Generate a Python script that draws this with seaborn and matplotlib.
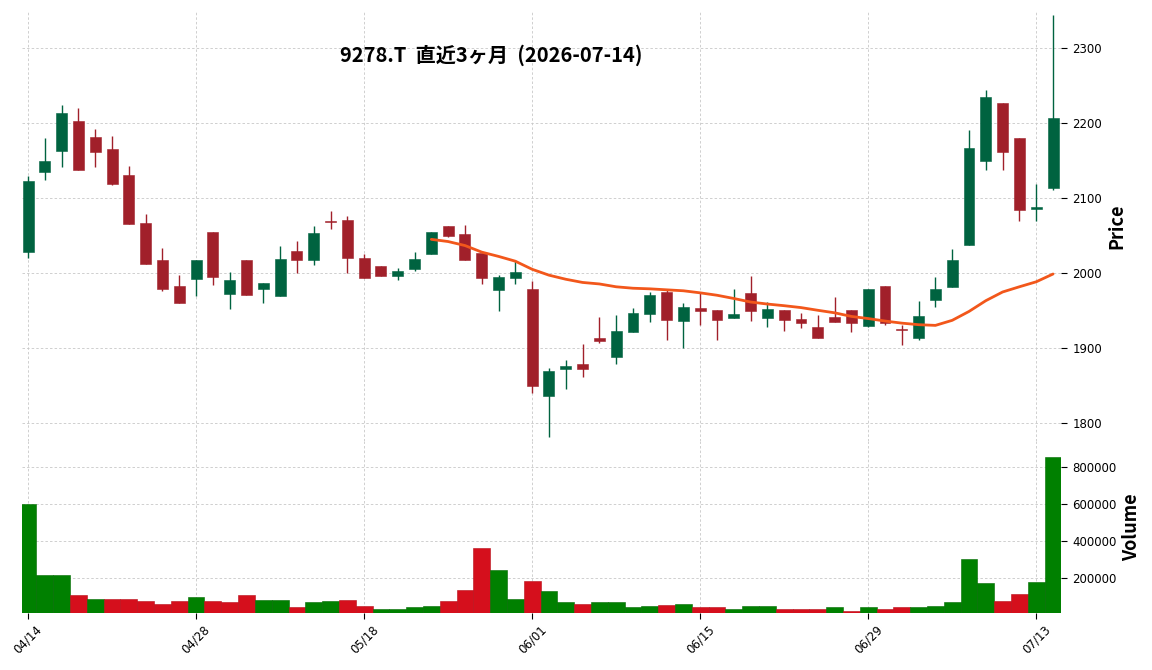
import numpy as np
import pandas as pd
import matplotlib
matplotlib.use("Agg")
import matplotlib.pyplot as plt
import seaborn as sns

# trading days, 2026-04-14 .. 2026-07-14 (TSE calendar)
dates = ["04/14", "04/15", "04/16", "04/17", "04/20", "04/21", "04/22", "04/23", "04/24", "04/27",
         "04/28", "04/30", "05/01", "05/07", "05/08", "05/11", "05/12", "05/13", "05/14", "05/15",
         "05/18", "05/19", "05/20", "05/21", "05/22", "05/25", "05/26", "05/27", "05/28", "05/29",
         "06/01", "06/02", "06/03", "06/04", "06/05", "06/08", "06/09", "06/10", "06/11", "06/12",
         "06/15", "06/16", "06/17", "06/18", "06/19", "06/22", "06/23", "06/24", "06/25", "06/26",
         "06/29", "06/30", "07/01", "07/02", "07/03", "07/06", "07/07", "07/08", "07/09", "07/10",
         "07/13", "07/14"]

opens = [2028, 2135, 2163, 2203, 2182, 2166, 2131, 2067, 2018, 1983,
         1992, 2055, 1972, 2018, 1979, 1970, 2030, 2017, 2070, 2071,
         2020, 2010, 1996, 2006, 2025, 2063, 2052, 2027, 1978, 1994,
         1979, 1836, 1872, 1879, 1914, 1888, 1922, 1946, 1975, 1936,
         1954, 1951, 1940, 1974, 1940, 1951, 1939, 1928, 1942, 1951,
         1930, 1983, 1925, 1914, 1964, 1982, 2038, 2150, 2227, 2180,
         2086, 2114]
highs = [2130, 2180, 2225, 2220, 2193, 2183, 2143, 2079, 2033, 1997,
         2018, 2055, 2002, 2018, 1987, 2036, 2043, 2063, 2083, 2077,
         2025, 2010, 2007, 2028, 2055, 2063, 2064, 2027, 1998, 2018,
         1990, 1874, 1884, 1905, 1941, 1944, 1953, 1975, 1978, 1960,
         1975, 1951, 1979, 1996, 1961, 1951, 1947, 1944, 1968, 1951,
         1979, 1983, 1931, 1963, 1995, 2032, 2191, 2245, 2227, 2180,
         2119, 2345]
lows = [2020, 2125, 2142, 2138, 2142, 2118, 2066, 2012, 1976, 1960,
        1969, 1984, 1952, 1971, 1960, 1970, 2000, 2011, 2059, 2000,
        1993, 1996, 1991, 2003, 2025, 2048, 2017, 1985, 1949, 1985,
        1840, 1781, 1846, 1861, 1907, 1879, 1922, 1935, 1911, 1900,
        1931, 1911, 1940, 1936, 1928, 1923, 1927, 1913, 1935, 1921,
        1928, 1931, 1904, 1911, 1955, 1982, 2038, 2138, 2138, 2070,
        2070, 2111]
closes = [2123, 2150, 2214, 2138, 2162, 2119, 2066, 2012, 1979, 1960,
          2018, 1995, 1991, 1971, 1987, 2019, 2017, 2054, 2068, 2020,
          1993, 1996, 2003, 2019, 2055, 2050, 2017, 1994, 1995, 2002,
          1849, 1870, 1876, 1872, 1910, 1923, 1947, 1971, 1938, 1955,
          1950, 1937, 1946, 1950, 1952, 1938, 1933, 1913, 1935, 1934,
          1979, 1934, 1924, 1943, 1979, 2018, 2167, 2235, 2162, 2084,
          2089, 2207]
volumes = [602000, 218000, 218000, 110000, 88000, 88000, 88000, 77500, 61000, 77500,
           94000, 77500, 67000, 110000, 83000, 83000, 45000, 67000, 77500, 83000,
           50000, 34000, 34000, 40000, 50000, 77500, 137000, 364000, 245000, 88000,
           186000, 131500, 67000, 61000, 67000, 67000, 45000, 50000, 56000, 61000,
           45000, 40000, 34000, 50000, 50000, 29000, 34000, 29000, 40000, 23000,
           40000, 29000, 40000, 40000, 50000, 67000, 304000, 175000, 77500, 115000,
           180000, 854000]

title = "9278.T  直近3ヶ月  (2026-07-14)"
price_ticks = [1800, 1900, 2000, 2100, 2200, 2300]
volume_ticks = [200000, 400000, 600000, 800000]
tick_every = 10

UP, DOWN = "#006340", "#a1202a"
VUP, VDOWN = "#008000", "#d50f1c"
MA_COLOR = "#f2571b"


def main():
    sns.set_theme(style="white")
    plt.rcParams["font.family"] = ["DejaVu Sans", "Noto Sans CJK JP"]
    for k in ("text.color", "axes.labelcolor", "xtick.color", "ytick.color"):
        plt.rcParams[k] = "black"

    df = pd.DataFrame({"date": dates, "Open": opens, "High": highs,
                       "Low": lows, "Close": closes, "Volume": volumes})
    df["i"] = np.arange(len(df))
    df["ma25"] = df["Close"].rolling(25).mean()
    up = df["Close"] >= df["Open"]
    vup = df["Close"].diff().fillna(1) >= 0

    fig = plt.figure(figsize=(11.52, 6.7), dpi=100)
    ax = fig.add_axes([0.0191, 0.3418, 0.9023, 0.6418])
    axv = fig.add_axes([0.0191, 0.0851, 0.9023, 0.2567], sharex=ax)

    for a in (ax, axv):
        a.set_axisbelow(True)
        a.grid(True, linestyle=(0, (3, 2.5)), color="#c8c8c8", linewidth=0.6)
        for s in a.spines.values():
            s.set_visible(False)
        a.yaxis.tick_right()
        a.yaxis.set_label_position("right")
        a.tick_params(axis="y", which="both", right=True, length=4, width=0.8,
                      color="black", labelcolor="black", labelsize=8.5, pad=4)

    # candles
    cols = np.where(up, UP, DOWN)
    ax.vlines(df["i"], df["Low"], df["High"], colors=cols, linewidth=1.0, zorder=2)
    body_lo = np.minimum(df["Open"], df["Close"])
    body_h = (df["Close"] - df["Open"]).abs().clip(lower=1.5)
    ax.bar(df["i"], body_h, bottom=body_lo, width=0.65, color=cols,
           edgecolor=cols, linewidth=0.4, zorder=3)

    sns.lineplot(data=df, x="i", y="ma25", ax=ax, color=MA_COLOR,
                 linewidth=2.0, legend=False, zorder=4)

    ax.set_ylim(1776, 2350)
    ax.set_yticks(price_ticks)
    ax.set_ylabel("Price", fontsize=13, weight="bold", family="Noto Sans CJK JP")
    ax.set_xlabel("")
    ax.tick_params(axis="x", labelbottom=False, bottom=False)

    # volume
    vcols = np.where(vup, VUP, VDOWN)
    axv.bar(df["i"], df["Volume"], width=1.0, color=vcols,
            edgecolor=np.where(vup, "#006a00", "#b80c18"), linewidth=0.4, zorder=2)
    axv.set_ylim(10000, 943000)
    axv.set_yticks(volume_ticks)
    axv.set_yticklabels([str(v) for v in volume_ticks])
    axv.set_ylabel("Volume", fontsize=13, weight="bold", family="Noto Sans CJK JP")

    ticks = list(range(0, len(df), tick_every))
    axv.set_xticks(ticks)
    axv.set_xticklabels([dates[t] for t in ticks], rotation=45, ha="center")
    axv.tick_params(axis="x", bottom=True, length=4, width=0.8, color="black",
                    labelcolor="black", labelsize=8.5, pad=3)
    axv.set_xlim(-0.36, 61.5)

    fig.text(0.426, 0.918, title, ha="center", va="center", fontsize=14.5,
             weight="bold", color="black", family=["Noto Sans CJK JP", "DejaVu Sans"])

    fig.savefig("out.png", dpi=100)
    plt.close(fig)


if __name__ == "__main__":
    main()
